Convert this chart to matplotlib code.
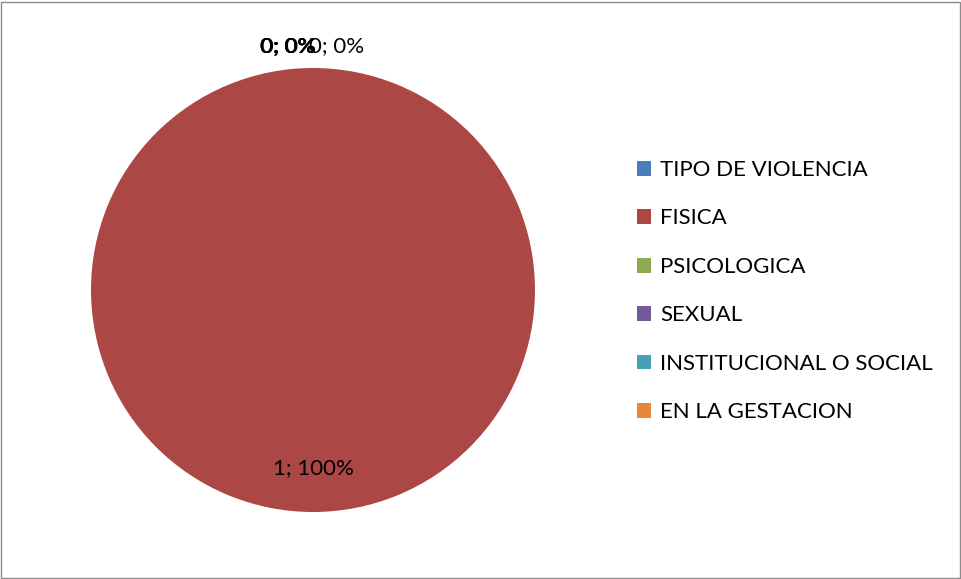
import numpy as np
import matplotlib.pyplot as plt
from matplotlib.patches import Rectangle

plt.rcParams['font.family'] = ['Lato', 'DejaVu Sans']

# --- Data ---
categorias = ["TIPO DE VIOLENCIA", "FISICA", "PSICOLOGICA", "SEXUAL",
              "INSTITUCIONAL O SOCIAL", "EN LA GESTACION"]
valores = [0, 1, 0, 0, 0, 0]
colores = ["#4A7EBB", "#AB4745", "#8EAB4F", "#76599A", "#44A0B9", "#E4873C"]

fig = plt.figure(figsize=(9.62, 5.79), dpi=100)

# pie axes: centre ~ (313, 289) px, radius ~222 px
r_px = 222
lim = 1.2
s = 2 * r_px * lim
ax = fig.add_axes([(313 - s / 2) / 962, (289 - s / 2) / 579, s / 962, s / 579])
wedges, _ = ax.pie(valores, colors=colores, startangle=90, counterclock=False,
                   wedgeprops=dict(linewidth=0))
ax.set_xlim(-lim, lim)
ax.set_ylim(-lim, lim)
ax.set_aspect('equal')
ax.axis('off')

# data labels "value; percent" (zero slices pile up at the top)
total = sum(valores)
dx_zero = [-0.115, -0.113, -0.111, -0.113, 0.104]
k = 0
for w, v in zip(wedges, valores):
    ang = np.deg2rad((w.theta1 + w.theta2) / 2)
    txt = f"{v}; {v / total:.0%}"
    if v > 0:
        x, y = 0.8 * np.cos(ang), 0.8 * np.sin(ang)
    else:
        x, y = 1.1 * np.cos(ang) + dx_zero[k], 1.1 * np.sin(ang)
        k += 1
    ax.text(x, y, txt, ha='center', va='center', fontsize=16, color='black',
            clip_on=False)

leg = fig.legend(wedges, categorias, loc='upper left',
                 bbox_to_anchor=(617 / 962, 1 - 140 / 579), frameon=False,
                 fontsize=16, handlelength=0.65, handleheight=0.65,
                 handletextpad=0.4, labelspacing=1.28)

# chart border
fig.patches.append(Rectangle((1 / 962, 1 / 579), 959 / 962, 576 / 579,
                             transform=fig.transFigure, fill=False,
                             edgecolor='#8C8C8C', linewidth=1))

fig.savefig("out.png", dpi=100)
